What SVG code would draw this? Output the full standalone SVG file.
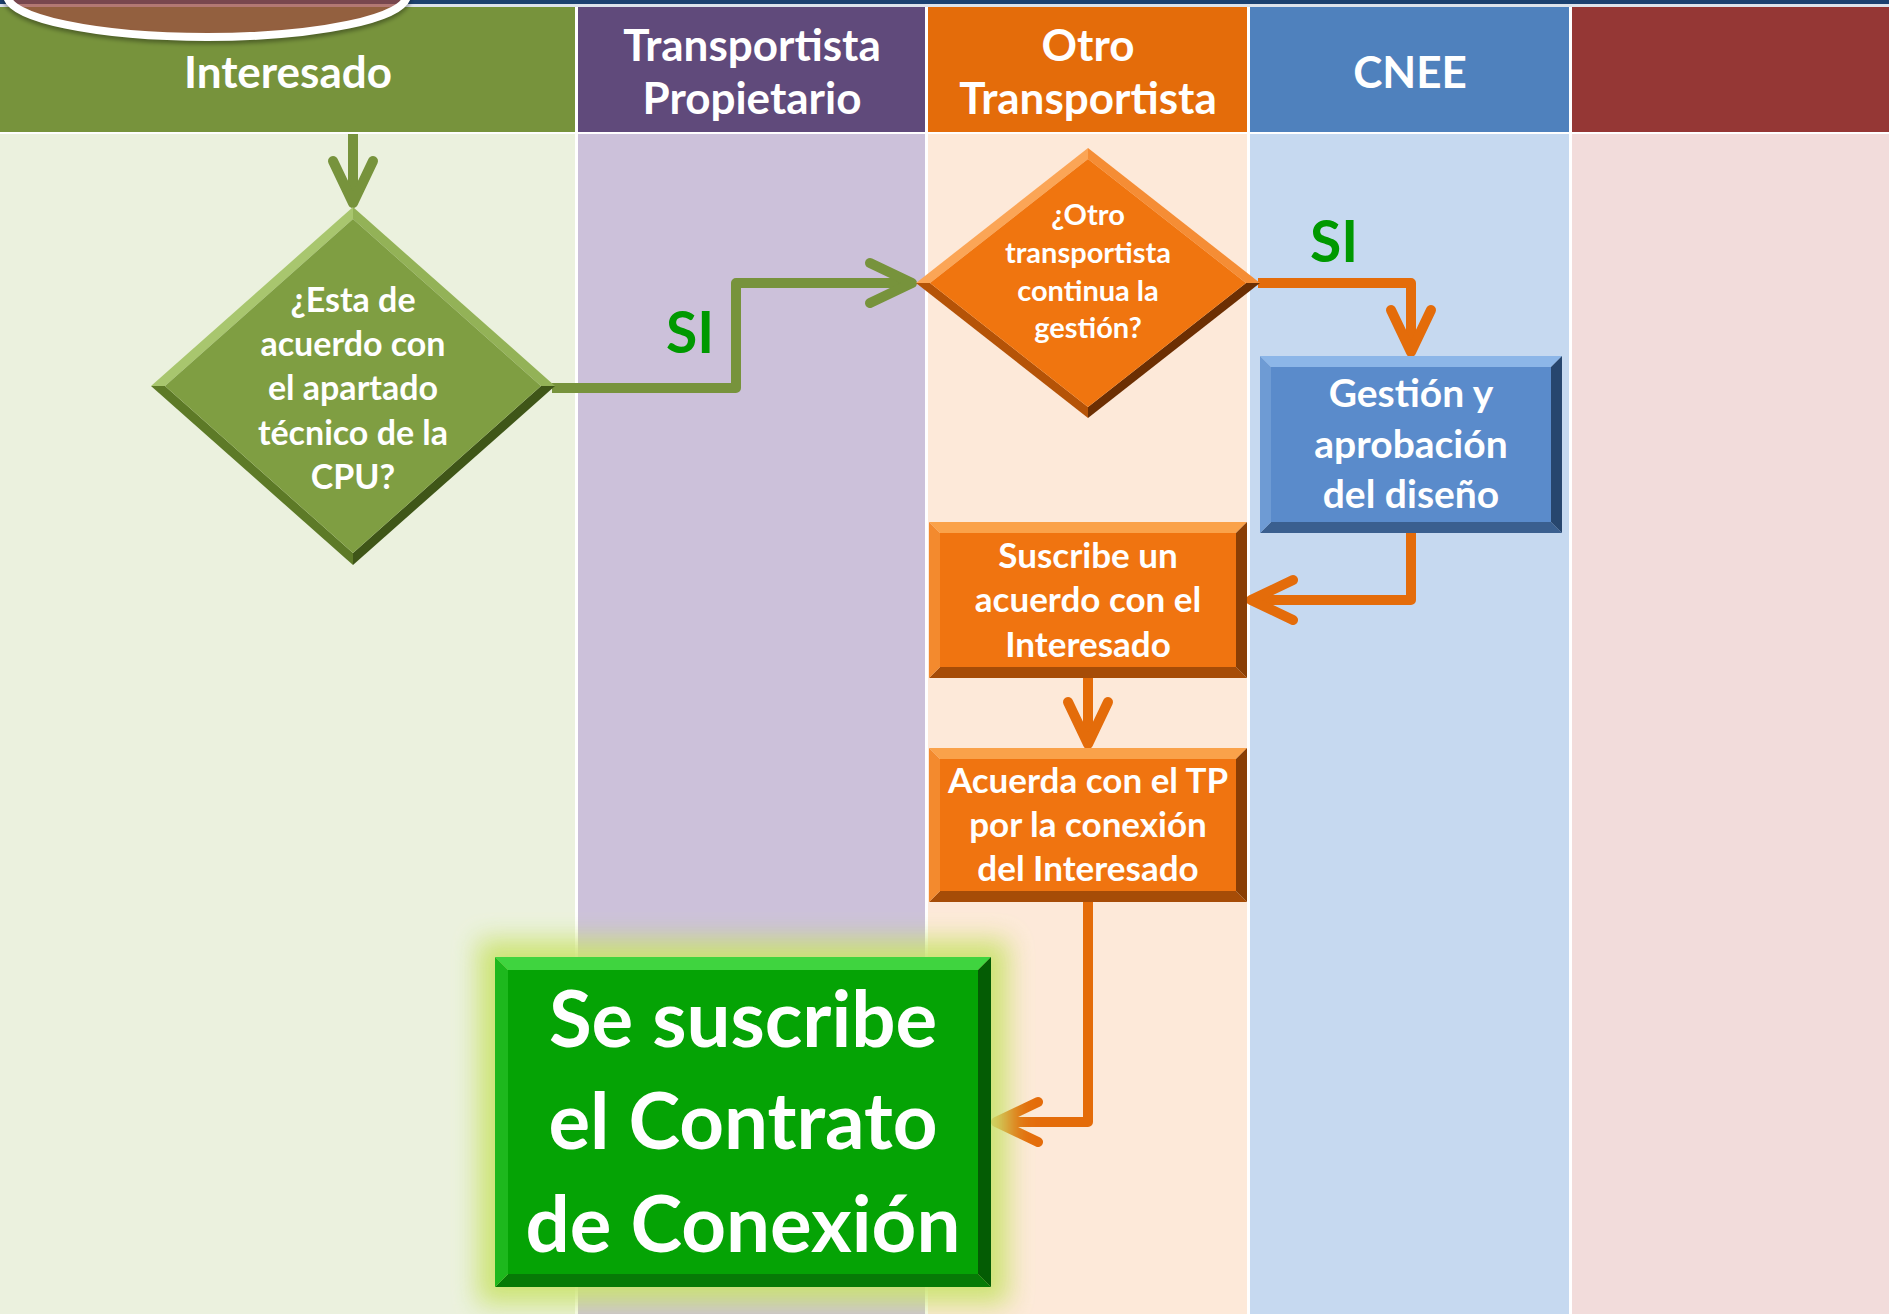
<svg xmlns="http://www.w3.org/2000/svg" width="1889" height="1314" viewBox="0 0 1889 1314">
<defs>
<style>
text{font-family:Lato,"Open Sans","Liberation Sans",sans-serif;font-weight:bold;fill:#fff;text-anchor:middle}
.hdr{font-size:44px}
.t-gd{font-size:34px}
.t-od{font-size:29px}
.t-bb{font-size:39px}
.t-ob{font-size:35px}
.t-gb{font-size:78px}
.si{font-size:57px;fill:#009900;text-anchor:start}
.cg{fill:none;stroke:#77933c;stroke-width:10;stroke-linejoin:round}
.co{fill:none;stroke:#e46c0a;stroke-width:10;stroke-linejoin:round}
.gd-face{fill:#7f9e42}.gd-tl{fill:#a8c66e}.gd-tr{fill:#93b257}.gd-bl{fill:#5d7a27}.gd-br{fill:#3f5618}
.od-face{fill:#f0750f}.od-tl{fill:#fba556}.od-tr{fill:#f58d35}.od-bl{fill:#b55307}.od-br{fill:#6c2f03}
.bb-face{fill:#5a8bcb}.bb-t{fill:#8cb6e8}.bb-l{fill:#6e9bd4}.bb-r{fill:#27466e}.bb-b{fill:#3a5f8f}
.ob-face{fill:#f07410}.ob-t{fill:#faa24a}.ob-l{fill:#f38a2e}.ob-r{fill:#8a3e04}.ob-b{fill:#a64c07}
.gb-face{fill:#05a305}.gb-t{fill:#3fd43f}.gb-l{fill:#1db81d}.gb-r{fill:#045c04}.gb-b{fill:#067a06}
</style>
<marker id="ag" markerUnits="userSpaceOnUse" viewBox="-50 -28 60 56" markerWidth="60" markerHeight="56" refX="0" refY="0" orient="auto">
<path d="M-42,-20 L0,0 L-42,20" fill="none" stroke="#77933c" stroke-width="10" stroke-linecap="round" stroke-linejoin="round"/>
</marker>
<marker id="ao" markerUnits="userSpaceOnUse" viewBox="-50 -28 60 56" markerWidth="60" markerHeight="56" refX="0" refY="0" orient="auto">
<path d="M-42,-20 L0,0 L-42,20" fill="none" stroke="#e46c0a" stroke-width="10" stroke-linecap="round" stroke-linejoin="round"/>
</marker>
<filter id="blur" x="-25%" y="-25%" width="150%" height="150%"><feGaussianBlur stdDeviation="13"/></filter>
<filter id="shadow" x="-10%" y="-50%" width="120%" height="200%"><feGaussianBlur stdDeviation="2"/></filter>
</defs>

<g id="background">
<rect x="0" y="0" width="1889" height="1314" fill="#ffffff"/>
<rect x="0" y="0" width="1889" height="7" fill="#dde3ec"/>
<rect x="0" y="0" width="1889" height="4" fill="#1c4170"/>
</g>

<g id="lanes">
<rect x="0" y="134" width="575" height="1180" fill="#ebf1de"/>
<rect x="578" y="134" width="347" height="1180" fill="#ccc1da"/>
<rect x="928" y="134" width="319" height="1180" fill="#fde9d9"/>
<rect x="1250" y="134" width="319" height="1180" fill="#c6d9f0"/>
<rect x="1572" y="134" width="317" height="1180" fill="#f2dcdb"/>
</g>

<g id="headers">
<g id="hdr-interesado">
<rect x="0" y="7" width="575" height="125" fill="#77933c"/>
<text class="hdr" x="288" y="88">Interesado</text>
</g>
<g id="hdr-tp">
<rect x="578" y="7" width="347" height="125" fill="#604a7b"/>
<text class="hdr" x="752" y="61">Transportista</text>
<text class="hdr" x="752" y="114">Propietario</text>
</g>
<g id="hdr-otro">
<rect x="928" y="7" width="319" height="125" fill="#e46c0a"/>
<text class="hdr" x="1088" y="61">Otro</text>
<text class="hdr" x="1088" y="114">Transportista</text>
</g>
<g id="hdr-cnee">
<rect x="1250" y="7" width="319" height="125" fill="#4f81bd"/>
<text class="hdr" x="1410" y="88">CNEE</text>
</g>
<g id="hdr-last">
<rect x="1572" y="7" width="317" height="125" fill="#953735"/>
</g>
</g>

<g id="badge">
<ellipse cx="207" cy="-2" rx="200" ry="42" fill="none" stroke="#000" stroke-opacity="0.35" stroke-width="8" filter="url(#shadow)"/>
<ellipse cx="207" cy="-5" rx="200" ry="42" fill="rgb(160,74,64)" fill-opacity="0.7" stroke="#ffffff" stroke-width="8"/>
</g>

<g id="connectors">
<path class="cg" d="M353,134 V203" marker-end="url(#ag)"/>
<path class="cg" d="M552,388 H736 V283 H912" marker-end="url(#ag)"/>
<path class="co" d="M1258,283 H1411 V352" marker-end="url(#ao)"/>
<path class="co" d="M1411,533 V600 H1251" marker-end="url(#ao)"/>
<path class="co" d="M1088,678 V744" marker-end="url(#ao)"/>
<path class="co" d="M1088,902 V1122 H996" marker-end="url(#ao)"/>
<text class="si" x="666" y="353">SI</text>
<text class="si" x="1310" y="262">SI</text>
</g>

<g id="decision-cpu">
<polygon class="gd-tl" points="353,207 151,386 165,386 353,219"/>
<polygon class="gd-tr" points="353,207 555,386 541,386 353,219"/>
<polygon class="gd-bl" points="151,386 353,565 353,553 165,386"/>
<polygon class="gd-br" points="555,386 353,565 353,553 541,386"/>
<polygon class="gd-face" points="353,219 541,386 353,553 165,386"/>
<text class="t-gd" x="353" y="312">¿Esta de</text>
<text class="t-gd" x="353" y="356">acuerdo con</text>
<text class="t-gd" x="353" y="400">el apartado</text>
<text class="t-gd" x="353" y="445">técnico de la</text>
<text class="t-gd" x="353" y="489">CPU?</text>
</g>

<g id="decision-otro">
<polygon class="od-tl" points="1088,148 916,283 930,283 1088,159"/>
<polygon class="od-tr" points="1088,148 1260,283 1246,283 1088,159"/>
<polygon class="od-bl" points="916,283 1088,418 1088,407 930,283"/>
<polygon class="od-br" points="1260,283 1088,418 1088,407 1246,283"/>
<polygon class="od-face" points="1088,159 1246,283 1088,407 930,283"/>
<text class="t-od" x="1088" y="225">¿Otro</text>
<text class="t-od" x="1088" y="263">transportista</text>
<text class="t-od" x="1088" y="301">continua la</text>
<text class="t-od" x="1088" y="338">gestión?</text>
</g>

<g id="gestion-diseno">
<polygon class="bb-t" points="1260,356 1562,356 1551,367 1271,367"/>
<polygon class="bb-b" points="1260,533 1562,533 1551,522 1271,522"/>
<polygon class="bb-l" points="1260,356 1271,367 1271,522 1260,533"/>
<polygon class="bb-r" points="1562,356 1551,367 1551,522 1562,533"/>
<rect class="bb-face" x="1271" y="367" width="280" height="155"/>
<text class="t-bb" x="1411" y="407">Gestión y</text>
<text class="t-bb" x="1411" y="458">aprobación</text>
<text class="t-bb" x="1411" y="508">del diseño</text>
</g>

<g id="suscribe-acuerdo">
<polygon class="ob-t" points="929,522 1247,522 1236,533 940,533"/>
<polygon class="ob-b" points="929,678 1247,678 1236,667 940,667"/>
<polygon class="ob-l" points="929,522 940,533 940,667 929,678"/>
<polygon class="ob-r" points="1247,522 1236,533 1236,667 1247,678"/>
<rect class="ob-face" x="940" y="533" width="296" height="134"/>
<text class="t-ob" x="1088" y="568">Suscribe un</text>
<text class="t-ob" x="1088" y="612">acuerdo con el</text>
<text class="t-ob" x="1088" y="657">Interesado</text>
</g>

<g id="acuerda-tp">
<polygon class="ob-t" points="929,748 1247,748 1236,759 940,759"/>
<polygon class="ob-b" points="929,902 1247,902 1236,891 940,891"/>
<polygon class="ob-l" points="929,748 940,759 940,891 929,902"/>
<polygon class="ob-r" points="1247,748 1236,759 1236,891 1247,902"/>
<rect class="ob-face" x="940" y="759" width="296" height="132"/>
<text class="t-ob" x="1088" y="793">Acuerda con el TP</text>
<text class="t-ob" x="1088" y="837">por la conexión</text>
<text class="t-ob" x="1088" y="881">del Interesado</text>
</g>

<g id="contrato">
<rect x="478" y="940" width="530" height="364" fill="#cbe36e" opacity="0.95" filter="url(#blur)"/>
<polygon class="gb-t" points="495,957 991,957 978,970 508,970"/>
<polygon class="gb-b" points="495,1287 991,1287 978,1274 508,1274"/>
<polygon class="gb-l" points="495,957 508,970 508,1274 495,1287"/>
<polygon class="gb-r" points="991,957 978,970 978,1274 991,1287"/>
<rect class="gb-face" x="508" y="970" width="470" height="304"/>
<text class="t-gb" x="743" y="1047">Se suscribe</text>
<text class="t-gb" x="743" y="1149">el Contrato</text>
<text class="t-gb" x="743" y="1252">de Conexión</text>
</g>
</svg>
